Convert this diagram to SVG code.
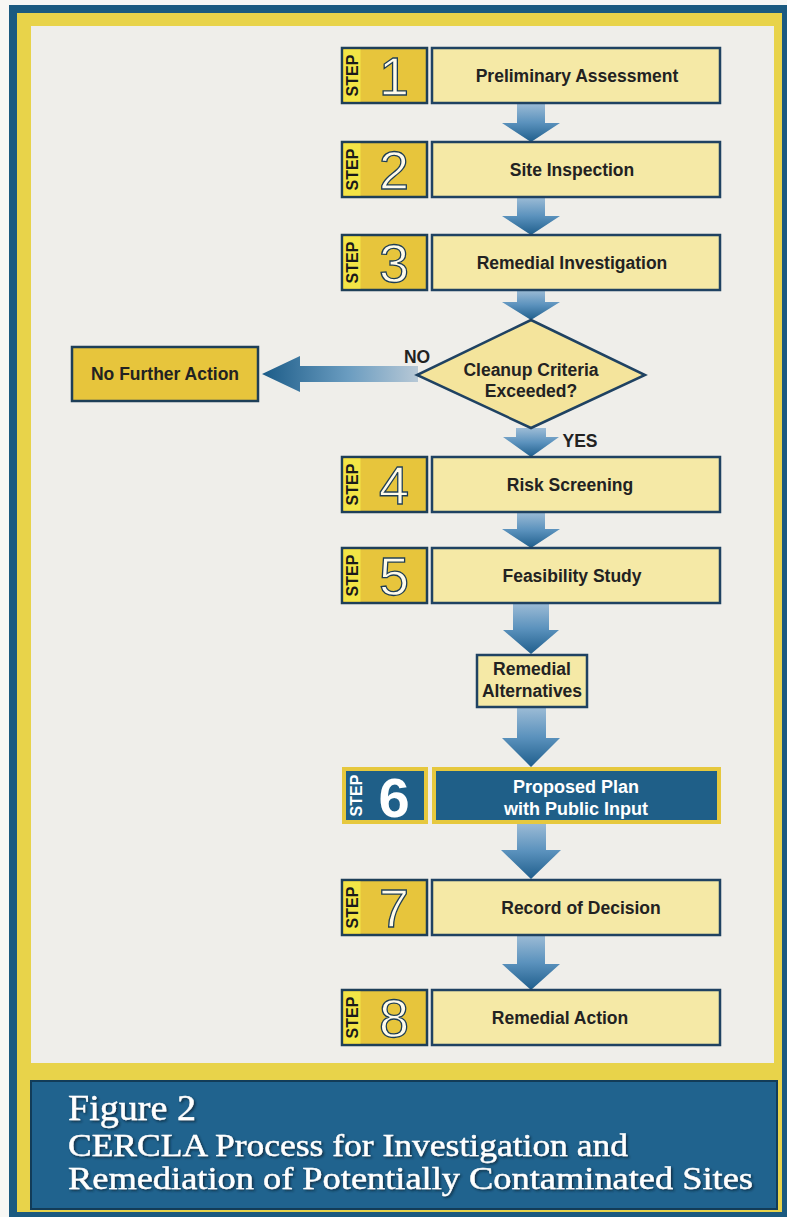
<svg xmlns="http://www.w3.org/2000/svg" width="787" height="1217" viewBox="0 0 787 1217">
<defs>
<linearGradient id="gv" x1="0" y1="0" x2="0" y2="1">
<stop offset="0" stop-color="#9dbcd6"/>
<stop offset="0.5" stop-color="#5b92bd"/>
<stop offset="1" stop-color="#1f5e8c"/>
</linearGradient>
<linearGradient id="gh" x1="1" y1="0" x2="0" y2="0">
<stop offset="0" stop-color="#b7c8d6"/>
<stop offset="0.45" stop-color="#6a9cc0"/>
<stop offset="1" stop-color="#1c5c88"/>
</linearGradient>
<filter id="sh" x="-5%" y="-20%" width="110%" height="140%">
<feDropShadow dx="1.5" dy="1.5" stdDeviation="0.8" flood-color="#0a2233" flood-opacity="0.8"/>
</filter>
</defs>
<style>
.badge{fill:#e7c53c;stroke:#1e3f58;stroke-width:2.5}
.strip{fill:#f3e546}
.box{fill:#f5e9a6;stroke:#1f4262;stroke-width:2.5}
.step{font-family:"Liberation Sans",Arial,sans-serif;font-weight:bold;font-size:16px;fill:#1a1a1a;text-anchor:middle}
.num{font-family:"Liberation Sans",Arial,sans-serif;font-size:54px;fill:#fffbea;stroke:#1d3d55;stroke-width:1.3;text-anchor:middle}
.lbl{font-family:"Liberation Sans",Arial,sans-serif;font-weight:bold;font-size:17.5px;fill:#222;text-anchor:middle}
.wlbl{font-family:"Liberation Sans",Arial,sans-serif;font-weight:bold;font-size:18px;fill:#ffffff;text-anchor:middle}
.blue6{fill:#1f5f88;stroke:#e6c83e;stroke-width:4}
.arr{fill:url(#gv)}
.cap{font-family:"Liberation Serif","Times New Roman",serif;fill:#ffffff;stroke:#ffffff;stroke-width:0.4}
</style>
<rect x="0" y="0" width="787" height="1217" fill="#f7f7f4"/>
<rect x="9" y="5" width="778" height="1212" fill="#1b5a80"/>
<rect x="17" y="13" width="765" height="1199" fill="#e8d34a"/>
<rect x="31" y="26" width="743" height="1037" fill="#efeeea"/>
<g id="caption">
<rect x="31" y="1081" width="746" height="128" fill="#20638e" stroke="#123c58" stroke-width="2"/>
<text class="cap" x="68" y="1120" font-size="36" textLength="128" lengthAdjust="spacingAndGlyphs" filter="url(#sh)">Figure 2</text>
<text class="cap" x="68" y="1156" font-size="32" textLength="560" lengthAdjust="spacingAndGlyphs" filter="url(#sh)">CERCLA Process for Investigation and</text>
<text class="cap" x="68" y="1189" font-size="32" textLength="685" lengthAdjust="spacingAndGlyphs" filter="url(#sh)">Remediation of Potentially Contaminated Sites</text>
</g>
<g id="connectors">
<path class="arr" d="M517 103 H545 V123 H560 L531 142 L502 123 H517 Z"/>
<path class="arr" d="M517 197 H545 V216 H560 L531 235 L502 216 H517 Z"/>
<path class="arr" d="M517 290 H545 V302 H560 L531 320 L502 302 H517 Z"/>
<path class="arr" d="M516 428 H546 V437 H559 L531 457 L503 437 H516 Z"/>
<path class="arr" d="M517 512 H545 V529 H560 L531 548 L502 529 H517 Z"/>
<path class="arr" d="M513 603 H549 V630 H559 L531 654 L503 630 H513 Z"/>
<path class="arr" d="M517 707 H546 V738 H560 L531 767 L502 738 H517 Z"/>
<path class="arr" d="M517 823 H546 V850 H561 L531 879 L501 850 H517 Z"/>
<path class="arr" d="M517 935 H545 V964 H560 L531 990 L502 964 H517 Z"/>
<path d="M418 366 V382 H300 V392 L262 374 L300 356 V366 Z" fill="url(#gh)"/>
<text class="lbl" x="417" y="363">NO</text>
<text class="lbl" x="580" y="447">YES</text>
</g>
<g id="step1">
<rect class="badge" x="342" y="48" width="85" height="55"/>
<rect class="strip" x="343.5" y="49.5" width="17" height="52"/>
<text class="step" transform="translate(358,75.5) rotate(-90)">STEP</text>
<text class="num" x="394" y="95">1</text>
<rect class="box" x="432" y="48" width="288" height="55"/>
<text class="lbl" x="577" y="82">Preliminary Assessment</text>
</g>
<g id="step2">
<rect class="badge" x="342" y="142" width="85" height="55"/>
<rect class="strip" x="343.5" y="143.5" width="17" height="52"/>
<text class="step" transform="translate(358,169.5) rotate(-90)">STEP</text>
<text class="num" x="394" y="189">2</text>
<rect class="box" x="432" y="142" width="288" height="55"/>
<text class="lbl" x="572" y="176">Site Inspection</text>
</g>
<g id="step3">
<rect class="badge" x="342" y="235" width="85" height="55"/>
<rect class="strip" x="343.5" y="236.5" width="17" height="52"/>
<text class="step" transform="translate(358,262.5) rotate(-90)">STEP</text>
<text class="num" x="394" y="282">3</text>
<rect class="box" x="432" y="235" width="288" height="55"/>
<text class="lbl" x="572" y="269">Remedial Investigation</text>
</g>
<g id="decision">
<path d="M531 320 L645 375 L531 428 L417 375 Z" fill="#f4e49c" stroke="#1f4262" stroke-width="2.5"/>
<text class="lbl" x="531" y="376">Cleanup Criteria</text>
<text class="lbl" x="531" y="397">Exceeded?</text>
</g>
<g id="nofurther">
<rect x="72" y="347" width="186" height="54" fill="#e7c53c" stroke="#1e3f58" stroke-width="2.5"/>
<text class="lbl" x="165" y="380">No Further Action</text>
</g>
<g id="step4">
<rect class="badge" x="342" y="457" width="85" height="55"/>
<rect class="strip" x="343.5" y="458.5" width="17" height="52"/>
<text class="step" transform="translate(358,484.5) rotate(-90)">STEP</text>
<text class="num" x="394" y="504">4</text>
<rect class="box" x="432" y="457" width="288" height="55"/>
<text class="lbl" x="570" y="491">Risk Screening</text>
</g>
<g id="step5">
<rect class="badge" x="342" y="548" width="85" height="55"/>
<rect class="strip" x="343.5" y="549.5" width="17" height="52"/>
<text class="step" transform="translate(358,575.5) rotate(-90)">STEP</text>
<text class="num" x="394" y="595">5</text>
<rect class="box" x="432" y="548" width="288" height="55"/>
<text class="lbl" x="572" y="582">Feasibility Study</text>
</g>
<g id="alternatives">
<rect x="477" y="655" width="110" height="52" fill="#f5e9a6" stroke="#1f4262" stroke-width="2.5"/>
<text class="lbl" x="532" y="675">Remedial</text>
<text class="lbl" x="532" y="697">Alternatives</text>
</g>
<g id="step6">
<rect class="blue6" x="344" y="769" width="82" height="53"/>
<text class="step" style="fill:#ffffff" transform="translate(362,795.5) rotate(-90)">STEP</text>
<text x="394" y="817" font-family="Liberation Sans, Arial, sans-serif" font-weight="bold" font-size="56" fill="#ffffff" text-anchor="middle">6</text>
<rect class="blue6" x="434" y="769" width="285" height="53"/>
<text class="wlbl" x="576" y="793">Proposed Plan</text>
<text class="wlbl" x="576" y="815">with Public Input</text>
</g>
<g id="step7">
<rect class="badge" x="342" y="880" width="85" height="55"/>
<rect class="strip" x="343.5" y="881.5" width="17" height="52"/>
<text class="step" transform="translate(358,907.5) rotate(-90)">STEP</text>
<text class="num" x="394" y="927">7</text>
<rect class="box" x="432" y="880" width="288" height="55"/>
<text class="lbl" x="581" y="914">Record of Decision</text>
</g>
<g id="step8">
<rect class="badge" x="342" y="990" width="85" height="55"/>
<rect class="strip" x="343.5" y="991.5" width="17" height="52"/>
<text class="step" transform="translate(358,1017.5) rotate(-90)">STEP</text>
<text class="num" x="394" y="1037">8</text>
<rect class="box" x="432" y="990" width="288" height="55"/>
<text class="lbl" x="560" y="1024">Remedial Action</text>
</g>
</svg>
